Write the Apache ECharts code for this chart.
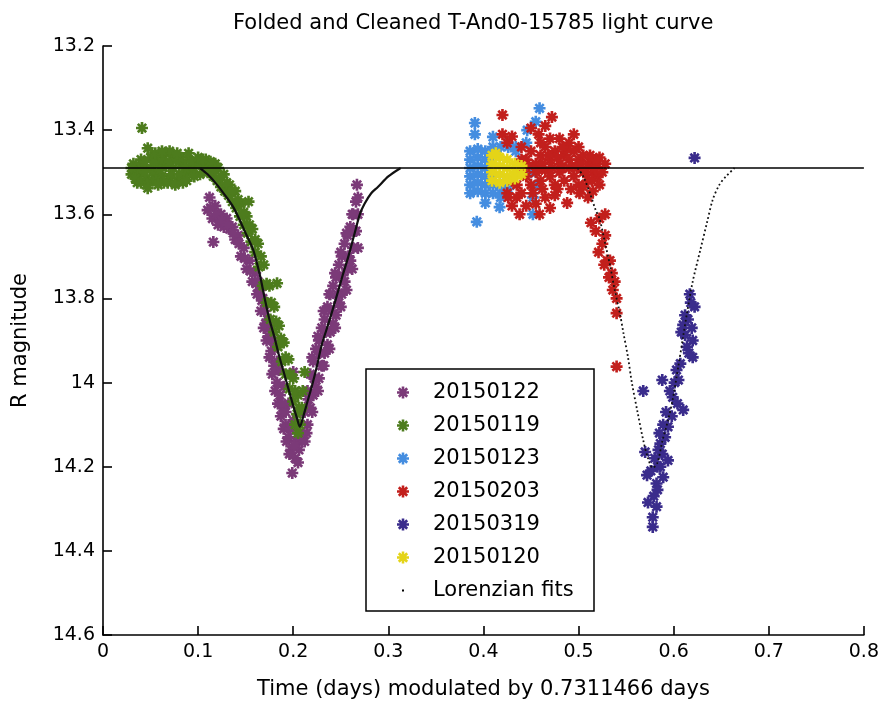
<!DOCTYPE html>
<html>
<head>
<meta charset="utf-8">
<script src="https://cdn.jsdelivr.net/npm/echarts@6/dist/echarts.min.js"></script>
<style>html,body{margin:0;padding:0;background:#fff}#chart{width:882px;height:705px}</style>
</head>
<body>
<div id="chart"></div>
<script>
// ---------- data ----------
const xTickLabels = ['0','0.1','0.2','0.3','0.4','0.5','0.6','0.7','0.8'];
const yTickLabels = ['13.2','13.4','13.6','13.8','14','14.2','14.4','14.6'];
const seriesNames = ['20150122','20150119','20150123','20150203','20150319','20150120'];
const fitName = 'Lorenzian fits';

const d20150122 = [
  [0.112,13.56],[0.118,13.58],[0.124,13.60],[0.130,13.61],[0.136,13.63],[0.142,13.65],[0.148,13.68],[0.154,13.71],[0.160,13.74],[0.165,13.78],[0.170,13.83],[0.175,13.87],[0.180,13.92],[0.185,13.97],[0.190,14.01],[0.195,14.05],[0.200,14.09],[0.205,14.13],
  [0.110,13.59],[0.115,13.61],[0.121,13.625],[0.127,13.63],[0.133,13.635],[0.139,13.66],[0.145,13.70],[0.151,13.73],[0.157,13.76],[0.162,13.79],[0.166,13.83],[0.169,13.87],[0.172,13.90],[0.175,13.94],[0.178,13.98],[0.181,14.02],[0.184,14.05],[0.187,14.08],[0.190,14.11],[0.193,14.14],[0.196,14.17],[0.199,14.215],[0.202,14.18],[0.206,14.16],[0.209,14.14],
  [0.113,13.585],[0.119,13.60],[0.125,13.615],[0.131,13.625],[0.137,13.645],[0.143,13.67],[0.149,13.705],[0.155,13.735],[0.161,13.765],[0.167,13.805],[0.171,13.86],[0.174,13.89],[0.177,13.925],[0.180,13.96],[0.183,14.00],[0.186,14.03],[0.189,14.06],[0.192,14.10],[0.195,14.13],[0.198,14.16],[0.203,14.14],[0.207,14.12],
  [0.163,13.76],[0.168,13.80],[0.173,13.85],[0.178,13.90],[0.183,13.95],[0.188,14.05],[0.192,14.07],[0.197,14.11],[0.201,14.15],[0.205,14.19],
  [0.116,13.666],[0.200,13.975],
  [0.212,14.14],[0.215,14.10],[0.218,14.06],[0.221,14.03],[0.224,14.01],[0.227,13.99],[0.230,13.96],[0.233,13.93],[0.236,13.91],[0.239,13.88],[0.242,13.86],[0.245,13.84],[0.248,13.81],[0.251,13.79],[0.254,13.76],[0.257,13.73],[0.260,13.71],[0.263,13.68],[0.266,13.64],[0.268,13.60],
  [0.212,14.07],[0.215,14.02],[0.218,13.98],[0.221,13.95],[0.224,13.92],[0.227,13.90],[0.230,13.87],[0.233,13.85],[0.236,13.82],[0.239,13.79],[0.242,13.77],[0.245,13.75],[0.248,13.72],[0.251,13.70],[0.254,13.67],[0.257,13.65],[0.260,13.63],[0.263,13.60],[0.266,13.57],[0.267,13.53],
  [0.216,14.04],[0.222,13.99],[0.228,13.93],[0.234,13.88],[0.240,13.83],[0.246,13.79],[0.252,13.745],[0.258,13.70],[0.264,13.64],
  [0.214,14.12],[0.220,14.07],[0.226,14.02],[0.232,13.96],[0.238,13.92],[0.244,13.87],[0.250,13.82],[0.256,13.78],[0.262,13.73],[0.268,13.68],
  [0.220,13.94],[0.226,13.89],[0.232,13.83],[0.238,13.79],[0.244,13.74],[0.250,13.69],[0.256,13.645],[0.262,13.60],[0.268,13.56]
];
const d20150119 = [
  [0.040,13.47],[0.050,13.465],[0.058,13.46],[0.066,13.455],[0.074,13.46],[0.082,13.465],[0.090,13.47],[0.098,13.475],
  [0.034,13.49],[0.042,13.485],[0.050,13.49],[0.058,13.48],[0.066,13.485],[0.074,13.49],[0.082,13.48],[0.090,13.49],[0.098,13.485],[0.106,13.49],
  [0.030,13.505],[0.038,13.51],[0.046,13.515],[0.054,13.505],[0.062,13.51],[0.070,13.515],[0.078,13.52],[0.086,13.505],[0.094,13.50],[0.102,13.505],[0.110,13.50],
  [0.036,13.525],[0.052,13.52],[0.068,13.525],[0.076,13.53],[0.084,13.525],
  [0.032,13.48],[0.038,13.495],[0.044,13.475],[0.054,13.475],[0.060,13.495],[0.064,13.47],[0.070,13.475],[0.078,13.47],[0.086,13.49],[0.094,13.475],[0.102,13.48],[0.108,13.485],
  [0.044,13.50],[0.056,13.52],[0.064,13.525],[0.072,13.505],[0.080,13.505],[0.088,13.52],[0.096,13.51],[0.030,13.49],[0.034,13.515],[0.040,13.525],[0.046,13.53],[0.058,13.53],
  [0.090,13.455],[0.070,13.45],[0.078,13.455],[0.055,13.455],[0.100,13.465],[0.108,13.47],
  [0.041,13.395],[0.047,13.443],[0.047,13.538],[0.062,13.45],[0.105,13.47],[0.113,13.475],[0.118,13.48],
  [0.112,13.50],[0.116,13.51],[0.120,13.52],[0.124,13.535],[0.128,13.545],[0.132,13.555],[0.136,13.57],[0.140,13.585],[0.144,13.605],[0.148,13.625],[0.152,13.645],[0.156,13.665],[0.160,13.69],[0.164,13.725],[0.168,13.77],[0.172,13.81],[0.176,13.85],[0.180,13.88],[0.184,13.915],[0.188,13.95],[0.192,13.98],[0.196,14.015],[0.200,14.045],[0.204,14.075],
  [0.115,13.48],[0.121,13.49],[0.127,13.505],[0.133,13.53],[0.139,13.545],[0.145,13.575],[0.151,13.605],[0.157,13.635],[0.163,13.67],[0.169,13.72],[0.175,13.77],[0.180,13.82],[0.185,13.865],[0.190,13.905],[0.195,13.945],[0.200,13.99],[0.205,14.03],
  [0.118,13.495],[0.124,13.51],[0.130,13.525],[0.136,13.545],[0.142,13.565],[0.148,13.595],[0.154,13.625],[0.160,13.66],[0.166,13.70],[0.172,13.765],[0.177,13.81],[0.182,13.855],[0.187,13.895],[0.192,13.94],[0.197,13.98],[0.202,14.02],[0.206,14.06],
  [0.212,13.975],[0.210,14.02],[0.209,14.06],[0.207,14.10],[0.205,14.12],[0.202,14.10],[0.183,13.764],[0.153,13.57]
];
const d20150123 = [
  [0.386,13.45],[0.386,13.47],[0.386,13.49],[0.386,13.51],[0.386,13.53],[0.386,13.55],
  [0.394,13.445],[0.394,13.465],[0.394,13.485],[0.394,13.505],[0.394,13.525],[0.394,13.545],
  [0.402,13.45],[0.402,13.47],[0.402,13.49],[0.402,13.51],[0.402,13.53],[0.402,13.55],
  [0.410,13.44],[0.410,13.46],[0.410,13.51],[0.410,13.53],[0.410,13.55],
  [0.418,13.44],[0.418,13.53],[0.418,13.55],[0.418,13.56],
  [0.426,13.43],[0.426,13.44],[0.426,13.54],[0.434,13.44],[0.434,13.45],[0.445,13.43],
  [0.391,13.383],[0.391,13.41],[0.393,13.618],[0.402,13.573],[0.417,13.583],[0.459,13.348],[0.455,13.38],[0.446,13.40],[0.452,13.60],[0.452,13.56],[0.410,13.416],[0.457,13.53],[0.450,13.50]
];
const d20150203 = [
  [0.420,13.364],[0.472,13.369],[0.465,13.39],[0.450,13.395],[0.458,13.41],[0.420,13.41],[0.425,13.43],[0.430,13.415],[0.440,13.44],[0.480,13.42],[0.490,13.43],[0.495,13.41],[0.500,13.44],[0.470,13.42],
  [0.445,13.47],[0.450,13.45],[0.455,13.48],[0.460,13.46],[0.465,13.44],[0.470,13.47],[0.475,13.45],[0.480,13.48],[0.485,13.46],[0.490,13.47],[0.495,13.45],[0.500,13.47],[0.505,13.46],[0.510,13.48],[0.515,13.47],[0.520,13.48],
  [0.445,13.51],[0.450,13.53],[0.455,13.50],[0.460,13.52],[0.465,13.495],[0.470,13.51],[0.475,13.53],[0.480,13.50],[0.485,13.52],[0.490,13.49],[0.495,13.51],[0.500,13.53],[0.505,13.50],[0.510,13.52],[0.515,13.50],[0.520,13.51],
  [0.442,13.49],[0.448,13.485],[0.458,13.495],[0.462,13.48],[0.468,13.46],[0.472,13.49],[0.478,13.465],[0.483,13.49],[0.488,13.445],[0.493,13.485],[0.498,13.49],[0.503,13.48],[0.508,13.50],[0.512,13.46],[0.517,13.49],[0.522,13.465],
  [0.452,13.55],[0.462,13.54],[0.478,13.54],[0.492,13.54],[0.505,13.535],[0.515,13.545],[0.483,13.44],[0.460,13.43],[0.440,13.47],[0.435,13.56],[0.445,13.58],[0.430,13.58],
  [0.440,13.55],[0.435,13.53],[0.430,13.52],[0.425,13.55],[0.438,13.60],[0.459,13.60],[0.426,13.56],[0.465,13.56],[0.475,13.555],[0.488,13.573],[0.501,13.55],[0.510,13.56],[0.519,13.47],[0.528,13.60],[0.514,13.52],[0.525,13.50],[0.528,13.48],[0.522,13.53],[0.455,13.575],[0.470,13.585],
  [0.513,13.62],[0.518,13.64],[0.521,13.69],[0.522,13.61],[0.525,13.67],[0.528,13.65],[0.527,13.72],[0.530,13.71],[0.533,13.71],[0.532,13.75],[0.535,13.74],[0.536,13.78],[0.538,13.76],[0.540,13.80],[0.540,13.835],[0.540,13.962]
];
const d20150319 = [
  [0.622,13.466],[0.617,13.79],[0.622,13.82],[0.610,13.863],[0.619,13.87],[0.612,13.887],[0.620,13.90],[0.614,13.915],[0.620,13.94],[0.607,13.955],[0.603,13.97],[0.605,13.994],[0.588,13.994],[0.568,14.02],[0.599,14.035],[0.610,14.065],[0.598,14.08],[0.594,14.105],[0.591,14.13],[0.586,14.145],[0.588,14.17],[0.570,14.165],[0.583,14.20],[0.594,14.185],[0.572,14.22],[0.589,14.225],[0.582,14.24],[0.583,14.255],[0.573,14.285],[0.582,14.295],[0.578,14.32],[0.578,14.343],
  [0.615,13.85],[0.608,13.88],[0.616,13.93],[0.601,14.00],[0.596,14.02],[0.604,14.05],[0.592,14.07],[0.589,14.10],[0.585,14.12],[0.584,14.16],[0.580,14.18],[0.576,14.21],[0.586,14.20],[0.579,14.27],[0.618,13.81],[0.612,13.84]
];
const d20150120 = [
  [0.409,13.46],[0.409,13.48],[0.409,13.50],[0.409,13.52],
  [0.417,13.465],[0.417,13.485],[0.417,13.505],[0.417,13.525],
  [0.425,13.47],[0.425,13.49],[0.425,13.51],[0.425,13.52],
  [0.433,13.48],[0.433,13.50],[0.433,13.515],[0.440,13.485],[0.440,13.505],[0.413,13.455]
];
const fit1 = [
  [0.102,13.49],[0.110,13.505],[0.120,13.53],[0.130,13.56],[0.137,13.583],[0.145,13.62],[0.150,13.645],[0.158,13.685],[0.165,13.745],[0.170,13.80],[0.175,13.85],[0.180,13.89],[0.185,13.935],[0.190,13.975],[0.195,14.015],[0.200,14.055],[0.204,14.085],[0.207,14.105],
  [0.210,14.085],[0.215,14.045],[0.220,14.005],[0.225,13.96],[0.230,13.91],[0.237,13.86],[0.245,13.80],[0.252,13.745],[0.258,13.70],[0.264,13.65],[0.270,13.60],[0.275,13.575],[0.282,13.55],[0.289,13.535],[0.300,13.51],[0.313,13.49]
];
const fit2 = [
  [0.499,13.49],[0.505,13.51],[0.512,13.55],[0.518,13.59],[0.522,13.61],[0.528,13.67],[0.533,13.72],[0.538,13.78],[0.543,13.83],[0.547,13.88],[0.552,13.94],[0.556,14.0],[0.562,14.07],[0.568,14.137],[0.573,14.18],[0.578,14.203],[0.583,14.19],[0.588,14.14],[0.594,14.09],[0.599,14.04],[0.605,13.96],[0.610,13.89],[0.614,13.835],[0.620,13.76],[0.628,13.685],[0.635,13.62],[0.641,13.566],[0.648,13.53],[0.655,13.51],[0.664,13.49]
];
const baselineX = [0, 0.8];
const baselineMag = 13.49;

// ---------- styling ----------
const colors = ['#7b3a78','#4d7c1d','#448de0','#c21f1c','#3a2c8c','#e4d418'];
const star = 'path://M3.9,0H6.1V10H3.9Z M0,3.9H10V6.1H0Z M2.28,0.72L9.28,7.72L7.72,9.28L0.72,2.28Z M7.72,0.72L9.28,2.28L2.28,9.28L0.72,7.72Z';
const starLegend = 'path://M0,0 M4.7,0H7.3V12H4.7Z M0,4.7H12V7.3H0Z M2.74,0.86L11.14,9.26L9.26,11.14L0.86,2.74Z M9.26,0.86L11.14,2.74L2.74,11.14L0.86,9.26Z M31,12';
const dotLegend = 'path://M0,0 M5,5H7V7H5Z M31,12';
const FONT = 'DejaVu Sans';

const allData = [d20150122, d20150119, d20150123, d20150203, d20150319, d20150120];
const series = seriesNames.map((n, i) => ({
  name: n, type: 'scatter', data: allData[i], symbol: star, symbolSize: 12,
  itemStyle: { color: colors[i], opacity: 1 }, emphasis: { disabled: true }
}));
series.push({
  name: 'baseline', type: 'line', data: baselineX.map(x => [x, baselineMag]),
  showSymbol: false, lineStyle: { color: '#000', width: 1.6 }, z: 5
});
series.push({
  name: fitName, type: 'line', data: fit1, showSymbol: false, smooth: 0.3,
  itemStyle: { color: '#000' }, lineStyle: { color: '#111', width: 2.2 }, z: 5
});
series.push({
  name: fitName, type: 'line', data: fit2, showSymbol: false, smooth: 0.3,
  itemStyle: { color: '#000' }, lineStyle: { color: '#111', width: 1.8, type: [1.8, 2.6] }, z: 5
});

const chart = echarts.init(document.getElementById('chart'), null, { renderer: 'canvas' });
chart.setOption({
  animation: false,
  backgroundColor: '#fff',
  title: {
    text: 'Folded and Cleaned T-And0-15785 light curve', left: 228, top: 8,
    textStyle: { fontFamily: FONT, fontSize: 21, fontWeight: 'normal', color: '#000' }
  },
  grid: { left: 103, top: 46, right: 18, bottom: 69, containLabel: false },
  xAxis: {
    type: 'value', min: 0, max: 0.8, interval: 0.1,
    name: 'Time (days) modulated by 0.7311466 days', nameLocation: 'middle', nameGap: 44,
    nameTextStyle: { fontFamily: FONT, fontSize: 21, color: '#000' },
    axisLine: { show: true, lineStyle: { color: '#000', width: 1.6 } },
    axisTick: { show: true, inside: true, length: 9, lineStyle: { color: '#000', width: 1.6 } },
    axisLabel: { margin: 8, fontFamily: FONT, fontSize: 19, color: '#000',
      formatter: v => xTickLabels[Math.round(v / 0.1)] },
    splitLine: { show: false }
  },
  yAxis: {
    type: 'value', min: 13.2, max: 14.6, interval: 0.2, inverse: true,
    name: 'R magnitude', nameLocation: 'middle', nameGap: 72, nameRotate: 90,
    nameTextStyle: { fontFamily: FONT, fontSize: 21, color: '#000' },
    axisLine: { show: true, lineStyle: { color: '#000', width: 1.6 } },
    axisTick: { show: true, inside: true, length: 9, lineStyle: { color: '#000', width: 1.6 } },
    axisLabel: { margin: 8, fontFamily: FONT, fontSize: 19, color: '#000',
      formatter: v => yTickLabels[Math.round((v - 13.2) / 0.2)] },
    splitLine: { show: false }
  },
  legend: {
    orient: 'vertical', left: 397, top: 382, padding: 0,
    itemWidth: 31, itemHeight: 12, itemGap: 12, selectedMode: false,
    textStyle: { fontFamily: FONT, fontSize: 21, color: '#000' },
    data: seriesNames.map(n => ({ name: n, icon: starLegend })).concat([{ name: fitName, icon: dotLegend }]),
    z: 10
  },
  graphic: [{
    type: 'rect', z: 8, shape: { x: 366, y: 369, width: 228, height: 242 },
    style: { fill: '#fff', stroke: '#000', lineWidth: 1.5 }
  }],
  series: series
});
</script>
</body>
</html>
